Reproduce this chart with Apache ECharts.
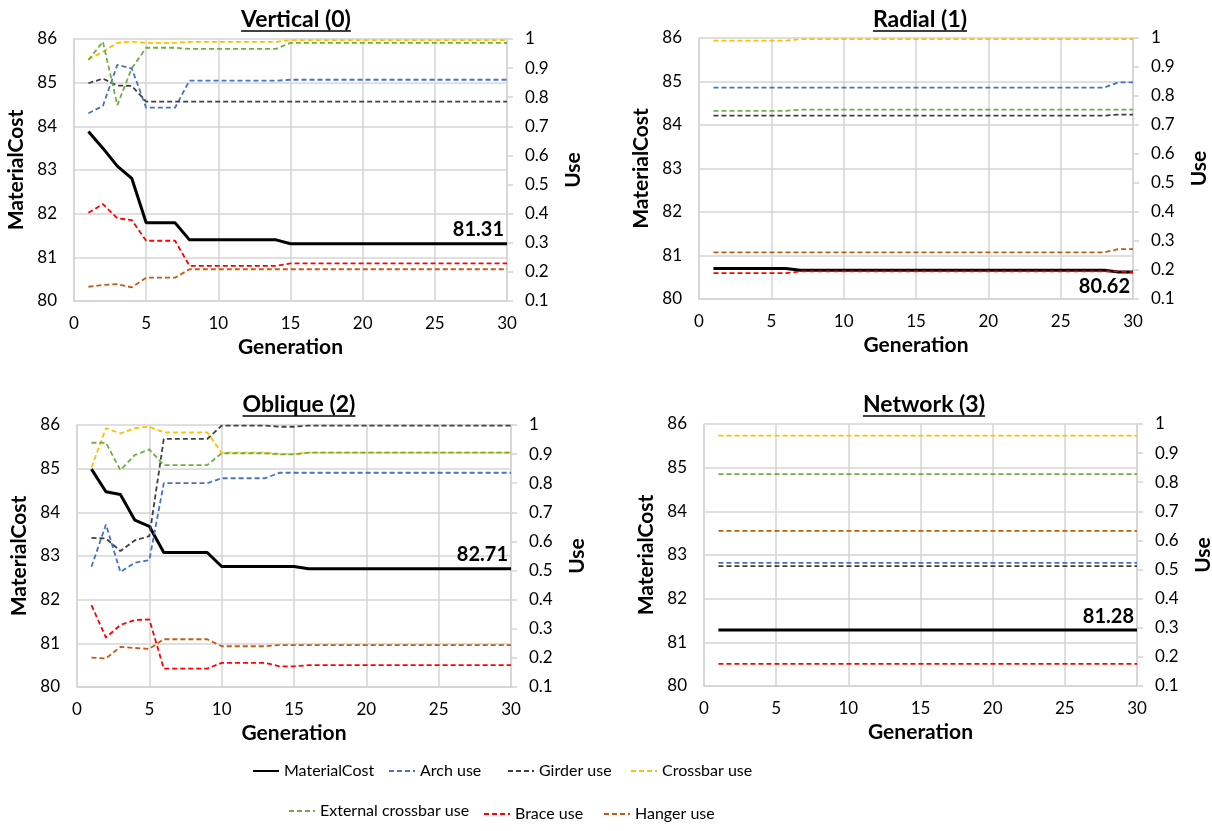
<!DOCTYPE html>
<html><head><meta charset="utf-8">
<script src="https://cdn.jsdelivr.net/npm/echarts@6/dist/echarts.min.js"></script>
<style>html,body{margin:0;padding:0;background:#fff}#c{width:1212px;height:831px}</style>
</head><body><div id="c"></div><script>
// ---------- DATA ----------
const generations = [1,2,3,4,5,6,7,8,9,10,11,12,13,14,15,16,17,18,19,20,21,22,23,24,25,26,27,28,29,30];
const seriesNames = ['MaterialCost','Arch use','Girder use','Crossbar use','External crossbar use','Brace use','Hanger use'];
const panelTitles = ['Vertical (0)','Radial (1)','Oblique (2)','Network (3)'];
const costTicks = [80,81,82,83,84,85,86];
const useTicks = [0.1,0.2,0.3,0.4,0.5,0.6,0.7,0.8,0.9,1];
const genTicks = [0,5,10,15,20,25,30];

// Vertical (0)
const v_cost     = [83.88,83.50,83.09,82.81,81.79,81.79,81.79,81.40,81.40,81.40,81.40,81.40,81.40,81.40,81.31,81.31,81.31,81.31,81.31,81.31,81.31,81.31,81.31,81.31,81.31,81.31,81.31,81.31,81.31,81.31];
const v_arch     = [0.745,0.770,0.911,0.899,0.764,0.764,0.764,0.857,0.857,0.857,0.857,0.857,0.857,0.857,0.860,0.860,0.860,0.860,0.860,0.860,0.860,0.860,0.860,0.860,0.860,0.860,0.860,0.860,0.860,0.860];
const v_girder   = [0.848,0.864,0.840,0.839,0.785,0.785,0.785,0.785,0.785,0.785,0.785,0.785,0.785,0.785,0.785,0.785,0.785,0.785,0.785,0.785,0.785,0.785,0.785,0.785,0.785,0.785,0.785,0.785,0.785,0.785];
const v_crossbar = [0.930,0.956,0.987,0.991,0.987,0.987,0.987,0.990,0.990,0.990,0.990,0.990,0.990,0.990,0.996,0.996,0.996,0.996,0.996,0.996,0.996,0.996,0.996,0.996,0.996,0.996,0.996,0.996,0.996,0.996];
const v_ext      = [0.928,0.991,0.773,0.899,0.970,0.970,0.970,0.966,0.966,0.966,0.966,0.966,0.966,0.966,0.987,0.987,0.987,0.987,0.987,0.987,0.987,0.987,0.987,0.987,0.987,0.987,0.987,0.987,0.987,0.987];
const v_brace    = [0.403,0.433,0.384,0.378,0.307,0.307,0.307,0.221,0.221,0.221,0.221,0.221,0.221,0.221,0.229,0.229,0.229,0.229,0.229,0.229,0.229,0.229,0.229,0.229,0.229,0.229,0.229,0.229,0.229,0.229];
const v_hanger   = [0.149,0.155,0.158,0.147,0.180,0.180,0.180,0.209,0.209,0.209,0.209,0.209,0.209,0.209,0.209,0.209,0.209,0.209,0.209,0.209,0.209,0.209,0.209,0.209,0.209,0.209,0.209,0.209,0.209,0.209];

// Radial (1)
const r_cost     = [80.70,80.70,80.70,80.70,80.70,80.70,80.66,80.66,80.66,80.66,80.66,80.66,80.66,80.66,80.66,80.66,80.66,80.66,80.66,80.66,80.66,80.66,80.66,80.66,80.66,80.66,80.66,80.66,80.62,80.62];
const r_arch     = [0.829,0.829,0.829,0.829,0.829,0.829,0.829,0.829,0.829,0.829,0.829,0.829,0.829,0.829,0.829,0.829,0.829,0.829,0.829,0.829,0.829,0.829,0.829,0.829,0.829,0.829,0.829,0.829,0.847,0.847];
const r_girder   = [0.732,0.732,0.732,0.732,0.732,0.732,0.732,0.732,0.732,0.732,0.732,0.732,0.732,0.732,0.732,0.732,0.732,0.732,0.732,0.732,0.732,0.732,0.732,0.732,0.732,0.732,0.732,0.732,0.736,0.736];
const r_crossbar = [0.991,0.991,0.991,0.991,0.991,0.991,0.996,0.996,0.996,0.996,0.996,0.996,0.996,0.996,0.996,0.996,0.996,0.996,0.996,0.996,0.996,0.996,0.996,0.996,0.996,0.996,0.996,0.996,0.996,0.996];
const r_ext      = [0.749,0.749,0.749,0.749,0.749,0.749,0.753,0.753,0.753,0.753,0.753,0.753,0.753,0.753,0.753,0.753,0.753,0.753,0.753,0.753,0.753,0.753,0.753,0.753,0.753,0.753,0.753,0.753,0.753,0.753];
const r_brace    = [0.189,0.189,0.189,0.189,0.189,0.189,0.195,0.195,0.195,0.195,0.195,0.195,0.195,0.195,0.195,0.195,0.195,0.195,0.195,0.195,0.195,0.195,0.195,0.195,0.195,0.195,0.195,0.195,0.195,0.193];
const r_hanger   = [0.261,0.261,0.261,0.261,0.261,0.261,0.261,0.261,0.261,0.261,0.261,0.261,0.261,0.261,0.261,0.261,0.261,0.261,0.261,0.261,0.261,0.261,0.261,0.261,0.261,0.261,0.261,0.261,0.272,0.272];

// Oblique (2)
const o_cost     = [84.99,84.47,84.41,83.82,83.68,83.08,83.08,83.08,83.08,82.76,82.76,82.76,82.76,82.76,82.76,82.71,82.71,82.71,82.71,82.71,82.71,82.71,82.71,82.71,82.71,82.71,82.71,82.71,82.71,82.71];
const o_arch     = [0.513,0.658,0.495,0.527,0.536,0.800,0.800,0.800,0.800,0.817,0.817,0.817,0.817,0.836,0.836,0.836,0.836,0.836,0.836,0.836,0.836,0.836,0.836,0.836,0.836,0.836,0.836,0.836,0.836,0.836];
const o_girder   = [0.612,0.610,0.567,0.604,0.618,0.952,0.952,0.952,0.952,0.998,0.998,0.998,0.998,0.994,0.994,0.998,0.998,0.998,0.998,0.998,0.998,0.998,0.998,0.998,0.998,0.998,0.998,0.998,0.998,0.998];
const o_crossbar = [0.854,0.989,0.971,0.989,0.994,0.975,0.975,0.975,0.975,0.905,0.905,0.905,0.905,0.901,0.901,0.905,0.905,0.905,0.905,0.905,0.905,0.905,0.905,0.905,0.905,0.905,0.905,0.905,0.905,0.905];
const o_ext      = [0.939,0.939,0.845,0.897,0.916,0.862,0.862,0.862,0.862,0.903,0.903,0.903,0.903,0.899,0.899,0.905,0.905,0.905,0.905,0.905,0.905,0.905,0.905,0.905,0.905,0.905,0.905,0.905,0.905,0.905];
const o_brace    = [0.381,0.270,0.313,0.330,0.332,0.163,0.163,0.163,0.163,0.183,0.183,0.183,0.183,0.171,0.171,0.175,0.175,0.175,0.175,0.175,0.175,0.175,0.175,0.175,0.175,0.175,0.175,0.175,0.175,0.175];
const o_hanger   = [0.201,0.198,0.238,0.234,0.231,0.264,0.264,0.264,0.264,0.240,0.240,0.240,0.240,0.244,0.244,0.244,0.244,0.244,0.244,0.244,0.244,0.244,0.244,0.244,0.244,0.244,0.244,0.244,0.244,0.244];

// Network (3)
const n_cost     = [81.28,81.28,81.28,81.28,81.28,81.28,81.28,81.28,81.28,81.28,81.28,81.28,81.28,81.28,81.28,81.28,81.28,81.28,81.28,81.28,81.28,81.28,81.28,81.28,81.28,81.28,81.28,81.28,81.28,81.28];
const n_arch     = [0.523,0.523,0.523,0.523,0.523,0.523,0.523,0.523,0.523,0.523,0.523,0.523,0.523,0.523,0.523,0.523,0.523,0.523,0.523,0.523,0.523,0.523,0.523,0.523,0.523,0.523,0.523,0.523,0.523,0.523];
const n_girder   = [0.512,0.512,0.512,0.512,0.512,0.512,0.512,0.512,0.512,0.512,0.512,0.512,0.512,0.512,0.512,0.512,0.512,0.512,0.512,0.512,0.512,0.512,0.512,0.512,0.512,0.512,0.512,0.512,0.512,0.512];
const n_crossbar = [0.960,0.960,0.960,0.960,0.960,0.960,0.960,0.960,0.960,0.960,0.960,0.960,0.960,0.960,0.960,0.960,0.960,0.960,0.960,0.960,0.960,0.960,0.960,0.960,0.960,0.960,0.960,0.960,0.960,0.960];
const n_ext      = [0.828,0.828,0.828,0.828,0.828,0.828,0.828,0.828,0.828,0.828,0.828,0.828,0.828,0.828,0.828,0.828,0.828,0.828,0.828,0.828,0.828,0.828,0.828,0.828,0.828,0.828,0.828,0.828,0.828,0.828];
const n_brace    = [0.176,0.176,0.176,0.176,0.176,0.176,0.176,0.176,0.176,0.176,0.176,0.176,0.176,0.176,0.176,0.176,0.176,0.176,0.176,0.176,0.176,0.176,0.176,0.176,0.176,0.176,0.176,0.176,0.176,0.176];
const n_hanger   = [0.633,0.633,0.633,0.633,0.633,0.633,0.633,0.633,0.633,0.633,0.633,0.633,0.633,0.633,0.633,0.633,0.633,0.633,0.633,0.633,0.633,0.633,0.633,0.633,0.633,0.633,0.633,0.633,0.633,0.633];

// ---------- ASSEMBLY ----------
const panelData = [
  [v_cost, v_arch, v_girder, v_crossbar, v_ext, v_brace, v_hanger],
  [r_cost, r_arch, r_girder, r_crossbar, r_ext, r_brace, r_hanger],
  [o_cost, o_arch, o_girder, o_crossbar, o_ext, o_brace, o_hanger],
  [n_cost, n_arch, n_girder, n_crossbar, n_ext, n_brace, n_hanger]
];
const seriesColors = ['#000000','#4472C4','#404040','#FFC000','#70AD47','#FF0000','#C55A11'];
const FONT = 'Lato';
const layout = [
  {left:74,  top:39,  width:433, height:262, tx:296, ty:8,   uy:31,  lp:'top'},
  {left:699, top:38,  width:434, height:261, tx:920, ty:8,   uy:31,  lp:'bottom'},
  {left:77,  top:425, width:434, height:262, tx:299, ty:393, uy:416, lp:'top'},
  {left:704, top:424, width:433, height:262, tx:924, ty:393, uy:416, lp:'top'}
];
const legendPos = [
  {left:252, top:763}, {left:388, top:763}, {left:507, top:763}, {left:630, top:763},
  {left:288, top:803}, {left:483, top:806}, {left:603, top:806}
];
const gridColor = '#D4D4D4';
const titleFont = 'bold 23px ' + FONT;
const meas = document.createElement('canvas').getContext('2d');

const grids = [], xAxes = [], yAxes = [], series = [], titles = [], graphics = [];
layout.forEach((L, i) => {
  grids.push({left:L.left, top:L.top, width:L.width, height:L.height, containLabel:false, outerBoundsMode:'none'});
  xAxes.push({
    type:'value', gridIndex:i, min:genTicks[0], max:genTicks[genTicks.length-1], interval:5,
    name:'Generation', nameLocation:'middle', nameGap:36,
    nameTextStyle:{fontFamily:FONT, fontSize:21, fontWeight:'bold', color:'#000'},
    axisLine:{show:true, lineStyle:{color:gridColor, width:1.5}},
    axisTick:{show:false},
    axisLabel:{fontFamily:FONT, fontSize:17, color:'#000', margin:14},
    splitLine:{show:true, lineStyle:{color:gridColor, width:1.5}}
  });
  yAxes.push({
    type:'value', gridIndex:i, position:'left', min:costTicks[0], max:costTicks[costTicks.length-1], interval:1,
    name:'MaterialCost', nameLocation:'middle', nameGap:47, nameRotate:90,
    nameTextStyle:{fontFamily:FONT, fontSize:21, fontWeight:'bold', color:'#000'},
    axisLine:{show:true, lineStyle:{color:gridColor, width:1.5}},
    axisTick:{show:false},
    axisLabel:{fontFamily:FONT, fontSize:17, color:'#000', margin:17},
    splitLine:{show:true, lineStyle:{color:gridColor, width:1.5}}
  });
  yAxes.push({
    type:'value', gridIndex:i, position:'right', min:useTicks[0], max:useTicks[useTicks.length-1], interval:0.1,
    name:'Use', nameLocation:'middle', nameGap:56, nameRotate:90,
    nameTextStyle:{fontFamily:FONT, fontSize:21, fontWeight:'bold', color:'#000'},
    axisLine:{show:true, lineStyle:{color:gridColor, width:1.5}},
    axisTick:{show:true, inside:false, length:6, lineStyle:{color:gridColor, width:1.5}},
    axisLabel:{fontFamily:FONT, fontSize:17, color:'#000', margin:18},
    splitLine:{show:false}
  });
  titles.push({
    text: panelTitles[i], left: L.tx, top: L.ty, textAlign:'center', padding:0,
    textStyle:{fontFamily:FONT, fontSize:23, fontWeight:'bold', color:'#000'}
  });
  meas.font = titleFont;
  const w = meas.measureText(panelTitles[i]).width || 115;
  graphics.push({type:'line', silent:true, z:100, shape:{x1:L.tx - w/2, y1:L.uy, x2:L.tx + w/2, y2:L.uy},
    style:{stroke:'#000', lineWidth:1.6}});

  panelData[i].forEach((arr, j) => {
    const last = arr.length - 1;
    const data = generations.map((g, k) => {
      if (j === 0 && k === last) {
        return {value:[g, arr[k]], symbol:'circle', symbolSize:0.1,
          label:{show:true, position:L.lp, align:'right', offset:[-3, 0], distance:4,
            formatter: p => p.value[1].toFixed(2),
            fontFamily:FONT, fontSize:20, fontWeight:'bold', color:'#000'}};
      }
      return [g, arr[k]];
    });
    series.push({
      type:'line', name:seriesNames[j], xAxisIndex:i, yAxisIndex: j === 0 ? 2*i : 2*i+1,
      data, symbol:'none', showSymbol:true, animation:false, silent:true,
      color: seriesColors[j],
      lineStyle:{color:seriesColors[j], width: j === 0 ? 3 : 1.8, type: j === 0 ? 'solid' : [5,3]},
      itemStyle:{color:seriesColors[j]},
      z: 2 + j
    });
  });
});

const legends = seriesNames.map((n, j) => ({
  data:[n], left:legendPos[j].left, top:legendPos[j].top, padding:0, itemWidth:26, itemHeight:14, itemGap:0,
  selectedMode:false, itemStyle:{opacity:0, borderWidth:0},
  textStyle:{fontFamily:FONT, fontSize:16, color:'#000'}
}));

const chart = echarts.init(document.getElementById('c'), null, {renderer:'canvas'});
chart.setOption({
  animation:false,
  backgroundColor:'#fff',
  textStyle:{fontFamily:FONT},
  title: titles,
  legend: legends,
  grid: grids,
  xAxis: xAxes,
  yAxis: yAxes,
  series: series,
  graphic: {elements: graphics}
});
</script></body></html>
